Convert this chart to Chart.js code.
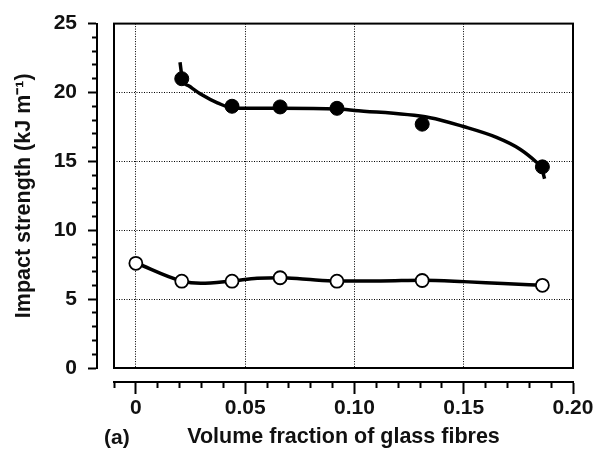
<!DOCTYPE html>
<html>
<head>
<meta charset="utf-8">
<script src="https://cdn.jsdelivr.net/npm/chart.js@4.4.1/dist/chart.umd.min.js"></script>
<style>
  body { margin: 0; background: #fff; }
  canvas { display: block; }
</style>
</head>
<body>
<canvas id="myChart" width="596" height="450"></canvas>
<script>
// measured points (volume fraction, impact strength kJ m^-1)
const fractionOpen = [0, 0.021, 0.044, 0.066, 0.092, 0.131, 0.186];
const impactOpen = [7.6, 6.3, 6.3, 6.55, 6.3, 6.35, 6.0];
const fractionFilled = [0.021, 0.044, 0.066, 0.092, 0.131, 0.186];
const impactFilled = [21.0, 19.0, 18.95, 18.85, 17.7, 14.6];

// fitted curves
const fitFilledX = [0.0202, 0.0213, 0.0245, 0.0300, 0.0373, 0.045, 0.066, 0.092, 0.10, 0.1346, 0.1498, 0.165, 0.1756, 0.1833, 0.1855, 0.187];
const fitFilledY = [22.2, 21.0, 20.45, 19.85, 19.25, 18.85, 18.85, 18.8, 18.7, 18.17, 17.53, 16.74, 15.9, 14.94, 14.58, 13.74];
const fitOpenX = [0, 0.021, 0.0297, 0.044, 0.0555, 0.066, 0.078, 0.092, 0.112, 0.131, 0.15, 0.168, 0.186];
const fitOpenY = [7.64, 6.32, 6.15, 6.32, 6.51, 6.56, 6.44, 6.32, 6.32, 6.37, 6.27, 6.13, 6.01];

const xMin = -0.01, xMax = 0.20;
const yMin = 0, yMax = 25;
const xLabels = ["0", "0.05", "0.10", "0.15", "0.20"];
const yLabels = ["0", "5", "10", "15", "20", "25"];

const font = "'Liberation Sans', Arial, sans-serif";

function pairs(xs, ys) {
    return xs.map((x, i) => ({ x: x, y: ys[i] }));
}

function xMajor(v) {
    const k = Math.round(v * 100);
    return k >= 0 && k % 5 === 0;
}

function yMajor(v) {
    return Math.round(v) % 5 === 0;
}

const framePlugin = {
    id: "frame",
    afterDraw(chart) {
        const a = chart.chartArea;
        const ctx = chart.ctx;
        ctx.save();
        ctx.strokeStyle = "#000";
        ctx.lineWidth = 2;
        ctx.strokeRect(a.left, a.top, a.right - a.left, a.bottom - a.top);
        ctx.fillStyle = "#111";
        ctx.font = "bold 21px " + font;
        ctx.textBaseline = "middle";
        ctx.fillText("(a)", 104, 438);
        ctx.restore();
    }
};

const ctx = document.getElementById("myChart").getContext("2d");
const myChart = new Chart(ctx, {
    type: "scatter",
    data: {
        datasets: [
            {
                data: pairs(fractionFilled, impactFilled),
                pointRadius: 7,
                pointBackgroundColor: "#000",
                pointBorderColor: "#000",
                pointBorderWidth: 1,
                order: 0
            },
            {
                data: pairs(fractionOpen, impactOpen),
                pointRadius: 6.5,
                pointBackgroundColor: "#fff",
                pointBorderColor: "#000",
                pointBorderWidth: 1.8,
                order: 0
            },
            {
                data: pairs(fitFilledX, fitFilledY),
                showLine: true,
                pointRadius: 0,
                borderColor: "#000",
                borderWidth: 3.5,
                cubicInterpolationMode: "monotone",
                order: 1
            },
            {
                data: pairs(fitOpenX, fitOpenY),
                showLine: true,
                pointRadius: 0,
                borderColor: "#000",
                borderWidth: 3.5,
                cubicInterpolationMode: "monotone",
                order: 1
            }
        ]
    },
    options: {
        responsive: false,
        animation: false,
        layout: { padding: { top: 20, right: 23, bottom: 0, left: 0 } },
        plugins: {
            legend: { display: false },
            tooltip: { enabled: false }
        },
        scales: {
            // inner scales: dotted grid, spacing from the frame
            x: {
                type: "linear",
                position: "bottom",
                weight: 0,
                min: xMin,
                max: xMax,
                ticks: { display: false, stepSize: 0.01, autoSkip: false },
                grid: {
                    drawTicks: false,
                    lineWidth: 1,
                    color: (c) => {
                        const v = c.tick ? c.tick.value : NaN;
                        return xMajor(v) && v < 0.195 ? "#000" : "rgba(0,0,0,0)";
                    }
                },
                border: { display: false, dash: [1, 1.5] },
                afterFit: (s) => { s.height = 14; }
            },
            y: {
                type: "linear",
                position: "left",
                weight: 0,
                min: yMin,
                max: yMax,
                ticks: { display: false, stepSize: 5 },
                grid: {
                    drawTicks: false,
                    lineWidth: 1,
                    color: (c) => {
                        const v = c.tick ? c.tick.value : NaN;
                        return v > 0 && v < 25 ? "#000" : "rgba(0,0,0,0)";
                    }
                },
                border: { display: false, dash: [1, 1.5] },
                afterFit: (s) => { s.width = 17; }
            },
            // outer axes with ticks and labels
            x2: {
                type: "linear",
                position: "bottom",
                weight: 1,
                min: xMin,
                max: xMax,
                ticks: {
                    stepSize: 0.01,
                    autoSkip: false,
                    maxRotation: 0,
                    minRotation: 0,
                    padding: 2,
                    color: "#111",
                    font: { family: font, size: 21, weight: "bold" },
                    callback: (v) => {
                        if (!xMajor(v)) return "";
                        return xLabels[Math.round(v * 100) / 5];
                    }
                },
                grid: {
                    drawOnChartArea: false,
                    tickLength: 12,
                    tickWidth: 2,
                    tickColor: "#000",
                    tickBorderDash: (c) => (c.tick && xMajor(c.tick.value)) ? [] : [5, 100]
                },
                border: { display: true, color: "#000", width: 2 },
                title: {
                    display: true,
                    text: "Volume fraction of glass fibres",
                    color: "#111",
                    font: { family: font, size: 21.5, weight: "bold" },
                    padding: { top: 0, bottom: 0 }
                },
                afterFit: (s) => { s.height = 68; }
            },
            y2: {
                type: "linear",
                position: "left",
                weight: 1,
                min: yMin,
                max: yMax,
                ticks: {
                    stepSize: 1,
                    autoSkip: false,
                    padding: 11,
                    color: "#111",
                    font: { family: font, size: 21, weight: "bold" },
                    callback: (v) => yMajor(v) ? yLabels[Math.round(v) / 5] : ""
                },
                grid: {
                    drawOnChartArea: false,
                    tickLength: 9,
                    tickWidth: 2,
                    tickColor: "#000",
                    tickBorderDash: (c) => (c.tick && yMajor(c.tick.value)) ? [] : [0, 4, 5, 100]
                },
                border: { display: true, color: "#000", width: 2 },
                title: {
                    display: true,
                    text: "Impact strength (kJ m\u207B\u00B9)",
                    color: "#111",
                    font: { family: font, size: 21.5, weight: "bold" },
                    padding: { top: 11, bottom: 0 }
                },
                afterFit: (s) => { s.width = 97; }
            }
        }
    },
    plugins: [framePlugin]
});
</script>
</body>
</html>
